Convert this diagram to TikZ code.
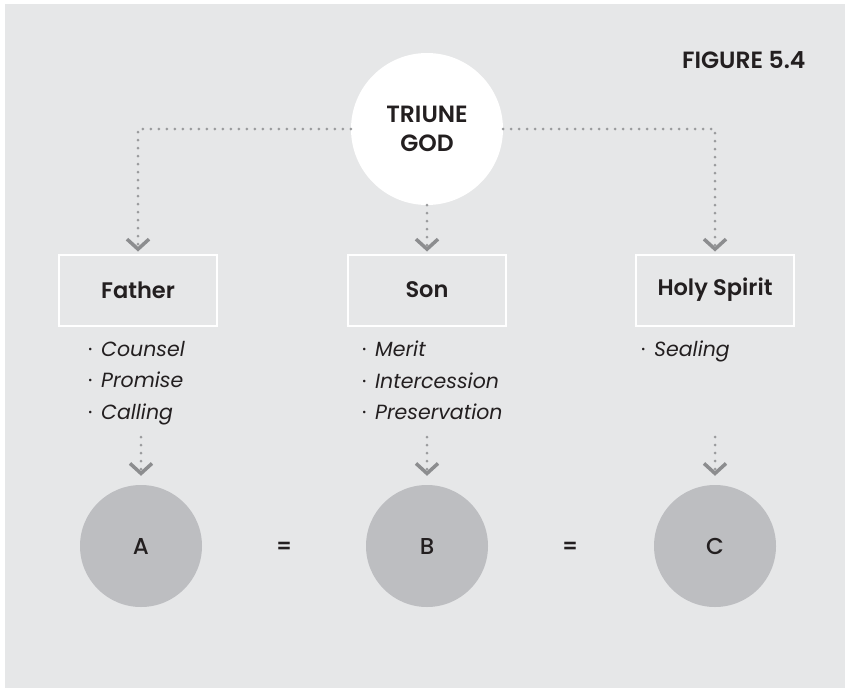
\documentclass[tikz,border=0pt]{standalone}
\usepackage{fontspec}
\setmainfont{Poppins}[BoldFont={Poppins SemiBold}]
\newfontfamily\medfont{Poppins Medium}
\usetikzlibrary{arrows.meta,positioning}

\definecolor{panel}{HTML}{E6E7E8}
\definecolor{discgray}{HTML}{BDBEC1}
\definecolor{dotgray}{HTML}{9A9B9D}
\definecolor{tipgray}{HTML}{8C8D8F}
\definecolor{ink}{HTML}{231F20}

\tikzset{
  title/.style={font=\fontsize{23.5}{29}\selectfont\bfseries, text=ink, align=center},
  person/.style={draw=white, line width=2pt, minimum width=158pt, minimum height=71pt,
    font=\fontsize{22.5}{25}\selectfont\bfseries, text=ink},
  works/.style={font=\fontsize{20.5}{31.5}\selectfont\itshape, text=ink, align=left,
    anchor=north west, inner sep=0pt},
  gift/.style={circle, fill=discgray, minimum size=122pt, inner sep=0pt,
    font=\fontsize{23}{26}\selectfont\medfont, text=ink},
  equal/.style={text=ink, font=\fontsize{21}{26}\selectfont\bfseries},
  link/.style={draw=dotgray, line width=3pt, line cap=round, dash pattern=on 0pt off 8pt,
    -{Straight Barb[length=10pt,width=22pt,line width=3.5pt,color=tipgray]}},
}
\newcommand{\pt}{\makebox[13pt][l]{\upshape\textperiodcentered}}

\begin{document}
\begin{tikzpicture}[x=1pt,y=-1pt]
\useasboundingbox (0,0) rectangle (845,688);
% panel
\fill[panel] (5,4) rectangle (845,688);

\node[title, anchor=base east] (fig) at (809,68) {FIGURE 5.4};

% top
\node[circle, fill=white, minimum size=152pt, inner sep=0pt, title] (god) at (427,129) {TRIUNE\\GOD};

% persons
\node[person] (father) at (138,290) {Father};
\node[person] (son) at (427,290) {Son};
\node[person] (spirit) at (715,290) {Holy Spirit};

\draw[link, shorten >=2pt] (god.west) -| (father.north);
\draw[link, shorten >=2pt] (god.south) -- (son.north);
\draw[link, shorten >=2pt] (god.east) -| (spirit.north);

% works
\node[works] (fworks) at (88,341) {\pt Counsel\\\pt Promise\\\pt Calling};
\node[works] (sworks) at (362,341) {\pt Merit\\\pt Intercession\\\pt Preservation};
\node[works] (hworks) at (641,341) {\pt Sealing};

% bottom
\node[gift] (a) at (141,546) {A};
\node[gift] (b) at (427,546) {B};
\node[gift] (c) at (715,546) {C};
\node[equal] (eq1) at (284,548) {=};
\node[equal] (eq2) at (570,548) {=};

\coordinate (a-in) at (141,437);
\coordinate (b-in) at (427,437);
\coordinate (c-in) at (715,437);
\draw[link, shorten >=9pt] (a-in) -- (a.north);
\draw[link, shorten >=9pt] (b-in) -- (b.north);
\draw[link, shorten >=9pt] (c-in) -- (c.north);
\end{tikzpicture}
\end{document}
